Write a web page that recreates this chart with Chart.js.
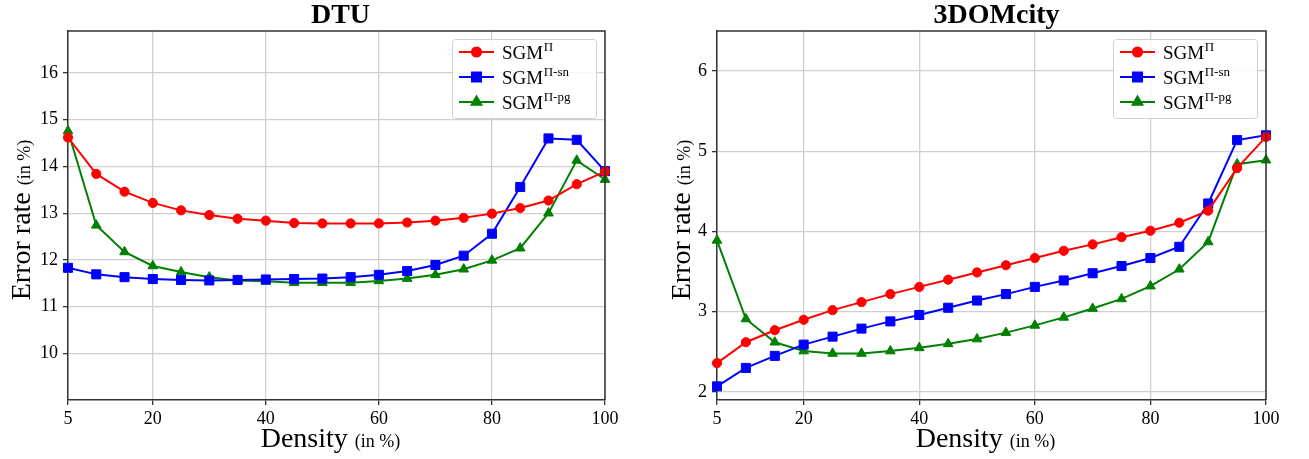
<!DOCTYPE html>
<html>
<head>
<meta charset="utf-8">
<script src="https://cdn.jsdelivr.net/npm/chart.js@4/dist/chart.umd.min.js"></script>
<style>
  html, body { margin: 0; padding: 0; background: #ffffff; }
  #wrap { position: relative; width: 1309px; height: 459px; }
  .cv { position: absolute; top: 0; }
</style>
</head>
<body>
<div id="wrap">
  <canvas id="c1" class="cv" width="650" height="459" style="left:0px;width:650px;height:459px"></canvas>
  <canvas id="c2" class="cv" width="659" height="459" style="left:650px;width:659px;height:459px"></canvas>
</div>
<script>
// ---- data ----
const density = [5, 10, 15, 20, 25, 30, 35, 40, 45, 50, 55, 60, 65, 70, 75, 80, 85, 90, 95, 100];
const xTickValues = [5, 20, 40, 60, 80, 100];

const dtuTitle = "DTU";
const dtuSGM   = [14.62, 13.84, 13.46, 13.22, 13.06, 12.96, 12.88, 12.84, 12.79, 12.78, 12.78, 12.78, 12.80, 12.84, 12.90, 12.99, 13.11, 13.27, 13.62, 13.89];
const dtuSN    = [11.83, 11.69, 11.63, 11.59, 11.57, 11.56, 11.57, 11.58, 11.59, 11.60, 11.63, 11.68, 11.76, 11.89, 12.09, 12.56, 13.56, 14.60, 14.57, 13.90];
const dtuPG    = [14.76, 12.74, 12.17, 11.87, 11.74, 11.63, 11.56, 11.54, 11.51, 11.51, 11.51, 11.55, 11.60, 11.68, 11.80, 11.99, 12.25, 13.00, 14.13, 13.72];
const dtuYTicks = [10, 11, 12, 13, 14, 15, 16];

const cityTitle = "3DOMcity";
const citySGM  = [2.36, 2.62, 2.77, 2.90, 3.02, 3.12, 3.22, 3.31, 3.40, 3.49, 3.58, 3.67, 3.76, 3.84, 3.93, 4.01, 4.11, 4.26, 4.79, 5.18];
const citySN   = [2.07, 2.30, 2.45, 2.59, 2.69, 2.79, 2.88, 2.96, 3.05, 3.14, 3.22, 3.31, 3.39, 3.48, 3.57, 3.67, 3.81, 4.35, 5.14, 5.20];
const cityPG   = [3.89, 2.91, 2.62, 2.51, 2.48, 2.48, 2.51, 2.55, 2.60, 2.66, 2.74, 2.83, 2.93, 3.04, 3.16, 3.32, 3.53, 3.87, 4.84, 4.89];
const cityYTicks = [2, 3, 4, 5, 6];

const seriesBase = "SGM";
const seriesSup = ["\u03A0", "\u03A0-sn", "\u03A0-pg"];
const xTitleMain = "Density", xTitleSub = "(in %)";
const yTitleMain = "Error rate", yTitleSub = "(in %)";

const SERIF = "'Liberation Serif', 'DejaVu Serif', serif";
const colors = ["#ff0000", "#0000ff", "#008000"];
const styles = ["circle", "rect", "triangle"];
const radii = [4.6, 6.4, 5.6];

function pts(vals) { return density.map((d, i) => ({ x: d, y: vals[i] })); }

function makeChart(id, title, sets, yTicks, yMin, yMax, opts) {
  const ctxEl = document.getElementById(id);
  const decor = {
    id: 'decor',
    afterDraw(chart) {
      const ctx = chart.ctx;
      const a = chart.chartArea;
      ctx.save();
      // top/right spines
      ctx.strokeStyle = '#333333';
      ctx.lineWidth = 1.5;
      ctx.beginPath();
      ctx.moveTo(a.left, a.top); ctx.lineTo(a.right, a.top); ctx.lineTo(a.right, a.bottom);
      ctx.stroke();

      // title
      ctx.fillStyle = '#000';
      ctx.font = 'bold 28px ' + SERIF;
      ctx.textAlign = 'center';
      ctx.textBaseline = 'alphabetic';
      ctx.fillText(title, (a.left + a.right) / 2 + opts.titleDx, 23);

      // x title
      ctx.textAlign = 'left';
      ctx.font = '28px ' + SERIF;
      const w1 = ctx.measureText(xTitleMain + ' ').width;
      ctx.font = '18px ' + SERIF;
      const w2 = ctx.measureText(xTitleSub).width;
      let sx = (a.left + a.right) / 2 - 6 - (w1 + w2) / 2;
      ctx.font = '28px ' + SERIF;
      ctx.fillText(xTitleMain, sx, 447);
      ctx.font = '18px ' + SERIF;
      ctx.fillText(xTitleSub, sx + w1, 447);

      // y title (rotated)
      ctx.font = '28px ' + SERIF;
      const v1 = ctx.measureText(yTitleMain + ' ').width;
      ctx.font = '18px ' + SERIF;
      const v2 = ctx.measureText(yTitleSub).width;
      ctx.save();
      ctx.translate(opts.yTitleX, 220);
      ctx.rotate(-Math.PI / 2);
      const sy = -(v1 + v2) / 2;
      ctx.font = '28px ' + SERIF;
      ctx.fillText(yTitleMain, sy, 0);
      ctx.font = '18px ' + SERIF;
      ctx.fillText(yTitleSub, sy + v1, 0);
      ctx.restore();

      // legend
      const bx = opts.legX, by = 39, bw = 144, bh = 79;
      ctx.fillStyle = 'rgba(255,255,255,0.85)';
      ctx.strokeStyle = '#d0d0d0';
      ctx.lineWidth = 1;
      ctx.beginPath();
      if (ctx.roundRect) ctx.roundRect(bx + 0.5, by + 0.5, bw, bh, 3); else ctx.rect(bx + 0.5, by + 0.5, bw, bh);
      ctx.fill(); ctx.stroke();
      const rows = [52, 77, 102];
      chart.data.datasets.forEach((ds, i) => {
        const ry = rows[i];
        ctx.strokeStyle = ds.borderColor;
        ctx.lineWidth = 2;
        ctx.beginPath();
        ctx.moveTo(bx + 7, ry); ctx.lineTo(bx + 42, ry);
        ctx.stroke();
        ctx.fillStyle = ds.borderColor;
        Chart.helpers.drawPoint(ctx, { pointStyle: ds.pointStyle, radius: ds.pointRadius, borderWidth: 1, rotation: 0 }, bx + 24.5, ry);
        ctx.fillStyle = '#000';
        ctx.textAlign = 'left';
        ctx.font = '19px ' + SERIF;
        ctx.fillText(seriesBase, bx + 50, ry + 7);
        const bw0 = ctx.measureText(seriesBase).width;
        ctx.font = '13px ' + SERIF;
        ctx.fillText(seriesSup[i], bx + 50 + bw0 + 0.5, ry - 1);
      });
      ctx.restore();
    }
  };

  return new Chart(ctxEl, {
    type: 'line',
    data: {
      datasets: sets.map((vals, i) => ({
        label: seriesBase + seriesSup[i],
        data: pts(vals),
        borderColor: colors[i],
        backgroundColor: colors[i],
        pointBackgroundColor: colors[i],
        pointBorderColor: colors[i],
        pointStyle: styles[i],
        pointRadius: radii[i],
        pointBorderWidth: 1,
        borderWidth: 2,
        tension: 0,
        clip: 6
      }))
    },
    options: {
      responsive: false,
      animation: false,
      devicePixelRatio: 1,
      layout: { padding: { left: 0, right: opts.padRight, top: 31, bottom: 0 } },
      plugins: { legend: { display: false }, title: { display: false }, tooltip: { enabled: false } },
      scales: {
        x: {
          type: 'linear', min: 5, max: 100,
          afterBuildTicks: s => { s.ticks = xTickValues.map(v => ({ value: v })); },
          afterFit: s => { s.height = 59; },
          grid: { color: '#cfcfcf', lineWidth: 1.3, tickColor: '#333', tickLength: 5, drawTicks: true },
          border: { color: '#333', width: 1.5 },
          ticks: { color: '#000', font: { family: SERIF, size: 18 }, padding: 3, maxRotation: 0, autoSkip: false }
        },
        y: {
          type: 'linear', min: yMin, max: yMax,
          afterBuildTicks: s => { s.ticks = yTicks.map(v => ({ value: v })); },
          afterFit: s => { s.width = opts.yWidth; },
          grid: { color: '#cfcfcf', lineWidth: 1.3, tickColor: '#333', tickLength: 5, drawTicks: true },
          border: { color: '#333', width: 1.5 },
          ticks: { color: '#000', font: { family: SERIF, size: 18 }, padding: 5, autoSkip: false }
        }
      }
    },
    plugins: [decor]
  });
}

makeChart('c1', dtuTitle, [dtuSGM, dtuSN, dtuPG], dtuYTicks, 9.0, 16.9,
  { padRight: 45, yWidth: 68, yTitleX: 30, legX: 452, titleDx: 4 });
makeChart('c2', cityTitle, [citySGM, citySN, cityPG], cityYTicks, 1.9, 6.5,
  { padRight: 43, yWidth: 67, yTitleX: 40, legX: 463, titleDx: 5 });
</script>
</body>
</html>
